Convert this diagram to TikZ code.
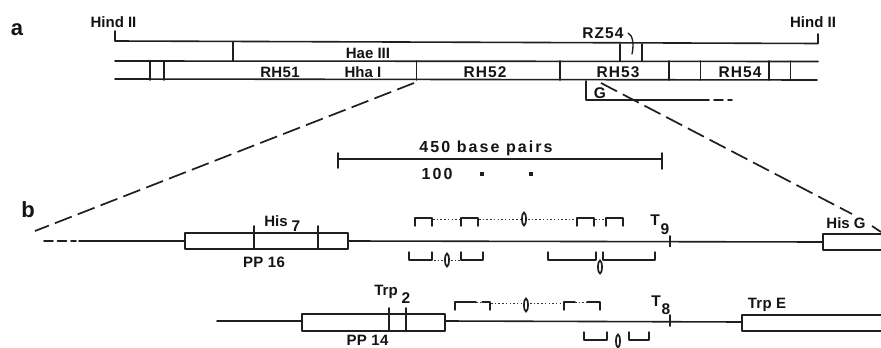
\documentclass[tikz,border=0pt]{standalone}
\usepackage{fontspec}
\setmainfont{Liberation Sans}
\usetikzlibrary{shapes.geometric}
\tikzset{
  ln/.style={line width=1.6pt,line cap=round,line join=round,black!88},
  thin ln/.style={line width=1.35pt,line cap=round,line join=round,black!88},
  dashln/.style={line width=1.7pt,black!88,dash pattern=on 18pt off 6.5pt},
  dotln/.style={line width=1pt,black!80,dash pattern=on 1.5pt off 2.2pt},
  lab/.style={inner sep=0pt,font=\fontsize{15}{16}\selectfont\bfseries,text=black!92},
  labm/.style={inner sep=0pt,font=\fontsize{15.5}{16}\selectfont\bfseries\addfontfeature{LetterSpace=7},text=black!92},
  labn/.style={inner sep=0pt,font=\fontsize{15}{16}\selectfont\bfseries\addfontfeature{LetterSpace=2},text=black!92},
  labw/.style={inner sep=0pt,font=\fontsize{16}{16}\selectfont\bfseries\addfontfeature{LetterSpace=13},text=black!92},
  big/.style={inner sep=0pt,font=\fontsize{22}{23}\selectfont\bfseries,text=black!92},
  oval/.style={ellipse,draw=black!88,line width=1.7pt,minimum width=4pt,minimum height=13pt,inner sep=0pt,fill=white},
  genebox/.style={draw=black!88,line width=1.7pt,line join=round,fill=white}
}
\begin{document}
\begin{tikzpicture}[x=1pt,y=-1pt]
\useasboundingbox (0,0) rectangle (881,348);
\fill[white] (0,0) rectangle (881,348);
% panel a
\node[big] (la) at (17,30) {a};
\node[lab] (h1) at (113.5,22) {Hind II};
\node[lab] (h2) at (813,22) {Hind II};
\draw[ln] (115,31) -- (115,41) -- (818,43.5) -- (818,34);
\draw[ln] (115,61) -- (818,61.5);
\draw[ln] (115,79) -- (817,80);
\foreach \x in {233} \draw[ln] (\x,42) -- (\x,61);
\foreach \x in {620,642} \draw[ln] (\x,44) -- (\x,61);
\foreach \x in {150,164,416.5,560,669,700.5,769,790.5} \draw[ln] (\x,61) -- (\x,80);
\node[lab] (hae) at (368,53) {Hae III};
\node[labn] (r1) at (280,72) {RH51};
\node[lab] (hha) at (363,72) {Hha I};
\node[labm] (r2) at (485,72) {RH52};
\node[labm] (r3) at (618,72) {RH53};
\node[labm] (r4) at (740,72) {RH54};
\node[labm] (rz) at (603,33) {RZ54};
\draw[thin ln] (628,33) .. controls (633,35) and (634,45) .. (632,54);
\node[labm] (g) at (600,93) {G};
\draw[ln] (586,81) -- (586,100) -- (700,100);
\draw[ln,dash pattern=on 9pt off 5pt] (700,100) -- (732,100);
\draw[dashln] (414,83) -- (35,231);
\draw[dashln] (601,83) -- (852,214);
\draw[dashln] (872,226) -- (881,232);
% scale
\node[labw] (sc) at (486,148) {450 base pairs};
\node[labw] (hun) at (437,174) {100};
\draw[ln] (338,153) -- (338,168);
\draw[ln] (662,153) -- (662,169);
\draw[ln] (338,159) -- (662,159);
\fill[black!88] (480,171.5) rectangle (484,175.5);
\fill[black!88] (529,171.5) rectangle (533,175.5);
% panel b, upper gene
\node[big] (lb) at (28,210) {b};
\draw[ln,dash pattern=on 9pt off 4.5pt] (44,241) -- (76,241);
\draw[ln] (79,241) -- (185,241);
\draw[ln] (348,241) -- (822,242);
\draw[genebox] (185,233) rectangle (348,249);
\draw[genebox] (881,234) -- (823,234) -- (823,250) -- (881,250);
\draw[ln] (254,226) -- (254,249);
\draw[ln] (318,226) -- (318,249);
\draw[ln] (670,236) -- (670,246.5);
\node[lab] (his) at (276,221) {His};
\node[labm] (his7) at (296,226) {7};
\node[labn] (pp16) at (264,262) {PP 16};
\node[labm] (t9) at (655,220) {T};
\node[labm] (t9n) at (665,229) {9};
\node[lab] (hg) at (846,223) {His G};
\foreach \a/\b in {415/432,461/478,577/594,606/623}
  \draw[thin ln] (\a,226) -- (\a,218) -- (\b,218) -- (\b,226);
\draw[dotln] (433,219) -- (460,219);
\draw[dotln] (479,219) -- (520,219);
\draw[dotln] (528,219) -- (576,219);
\draw[dotln] (595,219) -- (605,219);
\node[oval] (e1) at (524,219) {};
\foreach \a/\b in {409/432,461/483,548/596,603/655}
  \draw[thin ln] (\a,252) -- (\a,260) -- (\b,260) -- (\b,252);
\draw[dotln] (434,260) -- (443,260);
\draw[dotln] (451,260) -- (460,260);
\node[oval] (e2) at (447,260) {};
\node[oval] (e3) at (600,267) {};
% panel b, lower gene
\draw[ln] (217,321) -- (302,321);
\draw[ln] (445,321) -- (742,322);
\draw[genebox] (302,314) rectangle (445,331);
\draw[genebox] (881,315) -- (742,315) -- (742,331) -- (881,331);
\draw[ln] (389,308) -- (389,331);
\draw[ln] (406,308) -- (406,331);
\draw[ln] (670,315) -- (670,326);
\node[lab] (trp) at (386,292) {Trp};
\node[labm] (trp2) at (406,298) {2};
\node[labn] (pp14) at (367.5,340.5) {PP 14};
\node[labm] (t8) at (656,301) {T};
\node[labm] (t8n) at (666,309) {8};
\node[labn] (te) at (767,305) {Trp E};
\draw[thin ln] (455,310) -- (455,302) -- (476,302);
\draw[thin ln] (482,302) -- (490,302) -- (490,310);
\draw[thin ln] (564,310) -- (564,302) -- (575,302);
\draw[thin ln] (587,302) -- (600,302) -- (600,310);
\draw[dotln] (476,302) -- (482,302);
\draw[dotln] (491,303) -- (522,303);
\draw[dotln] (530,303) -- (563,303);
\draw[dotln] (575,302) -- (587,302);
\node[oval] (e4) at (526,305) {};
\foreach \a/\b in {584/607,629/649}
  \draw[thin ln] (\a,332) -- (\a,340) -- (\b,340) -- (\b,332);
\node[oval] (e5) at (618,341) {};
\end{tikzpicture}
\end{document}
